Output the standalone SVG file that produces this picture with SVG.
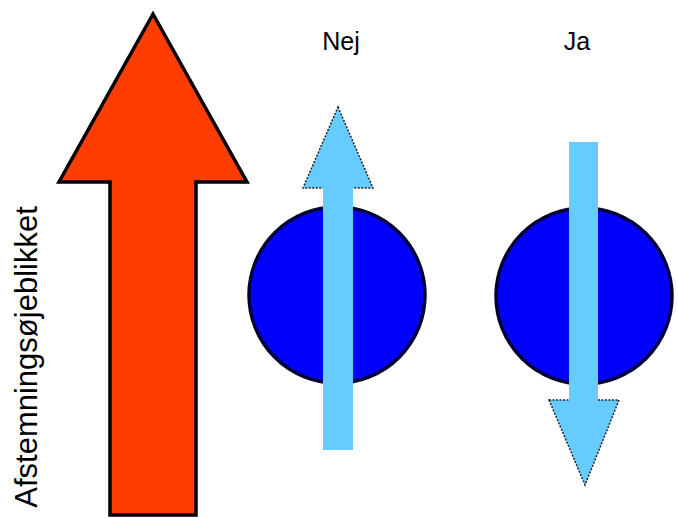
<svg xmlns="http://www.w3.org/2000/svg" width="678" height="518" viewBox="0 0 678 518">
<style>
.lbl{font-family:"Liberation Sans",Arial,sans-serif;fill:#000}
.ball{fill:#0000FF;stroke:#000033;stroke-width:3.5}
.spin{fill:#66CCFF;stroke:none}
.head{fill:#66CCFF;stroke:#222;stroke-width:1.5;stroke-dasharray:2 1.5}
</style>
<rect width="678" height="518" fill="#fff"/>
<g id="big-arrow">
<polygon points="153,14 247,182 196,182 196,515 110,515 110,182 59,182" fill="#FF3D00" stroke="#000" stroke-width="3.5" stroke-linejoin="miter"/>
</g>
<g id="label-axis">
<text class="lbl" font-size="31" text-anchor="middle" transform="translate(37,357) rotate(-90)">Afstemningsøjeblikket</text>
</g>
<g id="nej">
<text class="lbl" x="341" y="50" font-size="25" text-anchor="middle">Nej</text>
<circle class="ball" cx="337" cy="295" r="88"/>
</g>
<g id="ja">
<text class="lbl" x="577" y="50" font-size="25" text-anchor="middle">Ja</text>
<circle class="ball" cx="584" cy="296" r="88"/>
</g>
<g id="connectors">
<polygon class="head" points="338,107 373,188 303,188"/>
<rect class="spin" x="323" y="187" width="30" height="263"/>
<polygon class="head" points="549,400 619,400 585,485"/>
<rect class="spin" x="569" y="142" width="29" height="260"/>
</g>
</svg>
